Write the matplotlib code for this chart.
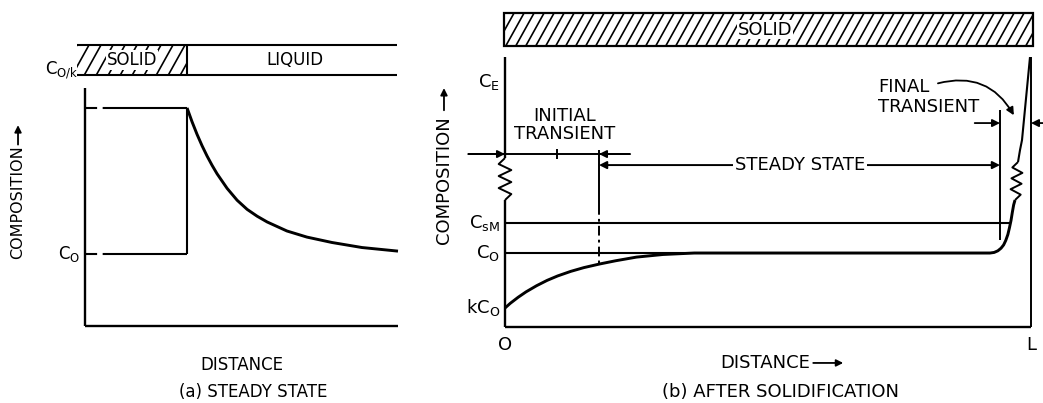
import numpy as np
import matplotlib
matplotlib.use('Agg')
import matplotlib.pyplot as plt
from matplotlib.patches import Rectangle, FancyArrowPatch

plt.rcParams['font.family'] = 'DejaVu Sans'
plt.rcParams['mathtext.default'] = 'regular'
plt.rcParams['lines.scale_dashes'] = False

# ---- (a) steady state: composition in units of C0 vs distance ----
a_interface = 3.26
a_c0 = 1.0
a_c0_k = 3.03
a_liquid_x = [3.26, 3.42, 3.58, 3.74, 3.90, 4.06, 4.22, 4.54, 4.86, 5.18, 5.50,
              5.82, 6.45, 7.09, 7.89, 8.85, 10.0]
a_liquid_c = [3.03, 2.837, 2.662, 2.504, 2.361, 2.232, 2.114, 1.912, 1.747, 1.62, 1.525,
              1.445, 1.32, 1.235, 1.16, 1.09, 1.04]

# ---- (b) after solidification, bar of length L = 10 ----
b_length = 10.0
b_c0 = 1.0
b_csm = 1.405
b_ce = 3.31
b_kc0 = 0.257
b_solid_x = [0.0, 0.1, 0.25, 0.4, 0.6, 0.8, 1.0, 1.25, 1.5, 1.8, 2.1, 2.5, 3.0, 3.6,
             9.221, 9.30, 9.37, 9.43, 9.48, 9.52, 9.56, 9.59, 9.62, 9.645, 9.67, 9.696]
b_solid_c = [0.257, 0.320, 0.402, 0.475, 0.558, 0.630, 0.690, 0.752, 0.803, 0.852, 0.895,
             0.945, 0.980, 1.0,
             1.0, 1.008, 1.03, 1.065, 1.11, 1.17, 1.25, 1.34, 1.44, 1.55, 1.65, 1.716]
b_tip_x = [9.753, 9.791, 9.829, 9.981]
b_tip_c = [2.23, 2.392, 2.527, 3.649]
b_initial_end = 1.787
b_final_start = 9.411

W, H = 1043, 403
fig = plt.figure(figsize=(W / 100, H / 100), dpi=100)
fig.patch.set_facecolor('white')

axa = fig.add_axes([85 / W, (H - 326) / H, 313 / W, 238 / H])
axb = fig.add_axes([505 / W, (H - 327) / H, 526 / W, 270 / H])
axa.set_xlim(0, 10)
axa.set_ylim(0, 3.306)
axb.set_xlim(0, 10)
axb.set_ylim(0, 3.65)
for ax in (axa, axb):
    ax.set_axis_off()

K = 'black'
LW = 1.7


def line(ax, xs, ys, lw=LW, **kw):
    ax.plot(xs, ys, color=K, lw=lw, clip_on=False, solid_capstyle='butt',
            solid_joinstyle='round', **kw)


def arrow(ax, start, end, size=11, lw=1.3):
    ax.annotate('', xy=end, xytext=start, annotation_clip=False,
                arrowprops=dict(arrowstyle='-|>', color=K, lw=lw,
                                mutation_scale=size, shrinkA=0, shrinkB=0))


def zigzag(ax, x0, y0, x1, y1, amp, n=3, lw=1.4):
    t = np.linspace(0, 1, 2 * n + 2)
    off = np.r_[0, np.tile([1, -1], n), 0] * amp
    line(ax, x0 + (x1 - x0) * t + off, y0 + (y1 - y0) * t, lw=lw)


def hatch(ax, x0, x1, y0, y1, sx, sy, step_px, slope_px, lw=1.2):
    rect = Rectangle((x0, y0), x1 - x0, y1 - y0, fill=False, lw=0,
                     transform=ax.transData, clip_on=False)
    ax.add_patch(rect)
    run = (y1 - y0) * sy / slope_px / sx
    for xs in np.arange(x0 - run, x1, step_px / sx):
        ln, = ax.plot([xs, xs + run], [y0, y1], color=K, lw=lw)
        ln.set_clip_path(rect)


# ================= (a) =================
fa = 12
# axes
line(axa, [0, 0], [0, 3.306])
line(axa, [0, 10], [0, 0])
# solid at C0, liquid boundary layer at C0/k
line(axa, [0.03, a_interface], [a_c0_k, a_c0_k], lw=1.5, linestyle=(0, (8, 4, 200, 4)))
line(axa, [0.03, a_interface], [a_c0, a_c0], lw=1.5, linestyle=(0, (8, 4, 200, 4)))
line(axa, [a_interface, a_interface], [a_c0, a_c0_k], lw=1.5)
line(axa, a_liquid_x, a_liquid_c, lw=2.1)

axa.text(-0.16, a_c0, 'C$_O$', ha='right', va='center', fontsize=fa)
axa.text(-0.2, 3.56, 'C$_{O/k}$', ha='right', va='center', fontsize=fa)

# solid / liquid bar
bar_lo, bar_hi = 3.486, 3.903
hatch(axa, -0.256, a_interface, bar_lo, bar_hi, 31.3, 72, 12, 1.8)
line(axa, [-0.256, 9.97], [bar_hi, bar_hi], lw=1.5)
line(axa, [-0.256, 9.97], [bar_lo, bar_lo], lw=1.5)
line(axa, [a_interface, a_interface], [bar_lo, bar_hi], lw=1.5)
axa.text(1.5, 3.694, 'SOLID', ha='center', va='center', fontsize=fa,
         bbox=dict(facecolor='white', edgecolor='none', pad=0.5))
axa.text(6.71, 3.694, 'LIQUID', ha='center', va='center', fontsize=fa)

axa.text(-2.14, 1.72, 'COMPOSITION', rotation=90, ha='center', va='center', fontsize=11.5)
arrow(axa, (-2.14, 2.52), (-2.14, 2.79), size=10)
axa.text(5.02, -0.54, 'DISTANCE', ha='center', va='center', fontsize=fa)
axa.text(5.37, -0.917, '(a) STEADY STATE', ha='center', va='center', fontsize=fa)

# ================= (b) =================
fb = 13
amp = 0.12
# left axis broken by a zigzag, bottom axis, end of bar at L
line(axb, [0, 0], [0, 1.716])
zigzag(axb, 0, 1.716, 0, 2.284, amp)
line(axb, [0, 0], [2.284, 3.65])
line(axb, [0, b_length], [0, 0])
line(axb, [b_length, b_length], [0, 3.65], lw=1.4)

# reference levels
line(axb, [0, 9.60], [b_csm, b_csm], lw=1.5)
line(axb, [0, 9.22], [b_c0, b_c0], lw=1.5)

# solid composition profile
line(axb, b_solid_x, b_solid_c, lw=2.1)
zigzag(axb, b_solid_x[-1], b_solid_c[-1], b_tip_x[0], b_tip_c[0], 0.1, lw=1.4)
line(axb, b_tip_x, b_tip_c, lw=1.5)

# boundaries of the transients
line(axb, [b_initial_end] * 2, [2.392, 1.649], lw=1.4)
line(axb, [b_initial_end] * 2, [1.649, 0.865], lw=1.4, linestyle=(0, (7, 3, 2, 3)))
line(axb, [b_final_start] * 2, [1.176, 2.932], lw=1.4)

# initial transient dimension
y_it = 2.338
line(axb, [-0.70, 2.38], [y_it, y_it], lw=1.4)
arrow(axb, (-0.70, y_it), (0, y_it))
arrow(axb, (2.38, y_it), (b_initial_end, y_it))
line(axb, [0.989, 0.989], [y_it - 0.07, y_it + 0.07], lw=1.4)
axb.text(1.141, 2.73, 'INITIAL\nTRANSIENT', ha='center', va='center',
         fontsize=fb, linespacing=1.0)

# steady state dimension
y_ss = 2.189
axb.annotate('', xy=(b_final_start, y_ss), xytext=(b_initial_end, y_ss),
             annotation_clip=False,
             arrowprops=dict(arrowstyle='<|-|>', color=K, lw=1.4,
                             mutation_scale=11, shrinkA=0, shrinkB=0))
axb.text(5.61, y_ss, 'STEADY STATE', ha='center', va='center', fontsize=fb,
         bbox=dict(facecolor='white', edgecolor='none', pad=1.5))

# final transient dimension
y_ft = 2.757
arrow(axb, (8.93, y_ft), (b_final_start, y_ft))
arrow(axb, (10.23, y_ft), (b_length, y_ft))
axb.text(7.09, 3.108, 'FINAL\nTRANSIENT', ha='left', va='center',
         fontsize=fb, linespacing=1.1)
axb.add_patch(FancyArrowPatch((8.18, 3.284), (9.70, 2.83),
                              connectionstyle='arc3,rad=-0.4', arrowstyle='-|>',
                              mutation_scale=11, color=K, lw=1.3, clip_on=False))

# level labels
axb.text(-0.095, b_ce, 'C$_E$', ha='right', va='center', fontsize=fb)
axb.text(-0.095, b_csm, 'C$_{sM}$', ha='right', va='center', fontsize=fb)
axb.text(-0.095, b_c0, 'C$_O$', ha='right', va='center', fontsize=fb)
axb.text(-0.095, b_kc0, 'kC$_O$', ha='right', va='center', fontsize=fb)
axb.text(0, -0.243, 'O', ha='center', va='center', fontsize=fb)
axb.text(b_length, -0.243, 'L', ha='center', va='center', fontsize=fb)

# solid bar
hatch(axb, -0.019, 10.04, 3.797, 4.243, 52.6, 74, 10, 1.8)
axb.add_patch(Rectangle((-0.019, 3.797), 10.059, 0.446, fill=False,
                        edgecolor=K, lw=1.6, clip_on=False))
axb.text(4.94, 4.02, 'SOLID', ha='center', va='center', fontsize=fb,
         bbox=dict(facecolor='white', edgecolor='none', pad=0.5))

axb.text(-1.16, 1.986, 'COMPOSITION', rotation=90, ha='center', va='center', fontsize=fb)
arrow(axb, (-1.16, 2.93), (-1.16, 3.23), size=10)
axb.text(4.94, -0.486, 'DISTANCE', ha='center', va='center', fontsize=fb)
arrow(axb, (5.86, -0.486), (6.43, -0.486), size=10)
axb.text(5.23, -0.878, '(b) AFTER SOLIDIFICATION', ha='center', va='center', fontsize=fb)

fig.savefig('out.png', dpi=100, facecolor='white')
